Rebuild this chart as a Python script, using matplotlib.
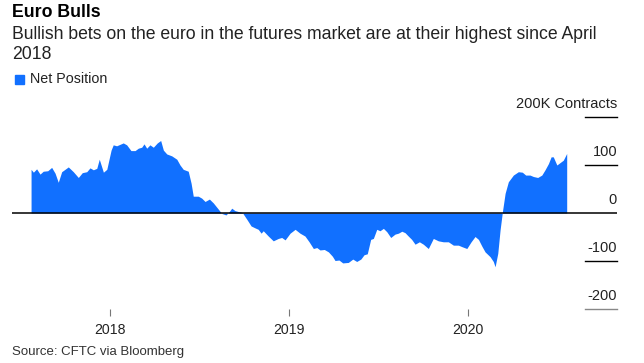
import numpy as np
import matplotlib
matplotlib.use("Agg")
import matplotlib.pyplot as plt
import matplotlib.transforms as mtransforms

plt.rcParams['font.family'] = ['Liberation Sans', 'DejaVu Sans']

# weekly-ish net positions (thousand contracts), dates as decimal years
dates = [2017.559, 2017.572, 2017.590, 2017.609, 2017.627, 2017.652, 2017.674, 2017.693,
         2017.711, 2017.730, 2017.767, 2017.795, 2017.823, 2017.845, 2017.870, 2017.888,
         2017.907, 2017.926, 2017.940, 2017.963, 2017.982, 2018.006, 2018.018, 2018.037,
         2018.074, 2018.093, 2018.117, 2018.140, 2018.158, 2018.177, 2018.190, 2018.205,
         2018.223, 2018.242, 2018.264, 2018.283, 2018.298, 2018.317, 2018.345, 2018.373,
         2018.391, 2018.409, 2018.437, 2018.453, 2018.465, 2018.493, 2018.512, 2018.531,
         2018.555, 2018.577, 2018.605, 2018.624, 2018.648, 2018.666, 2018.680, 2018.698,
         2018.717, 2018.739, 2018.764, 2018.788, 2018.810, 2018.828, 2018.844, 2018.856,
         2018.884, 2018.912, 2018.940, 2018.959, 2018.978, 2019.006, 2019.034, 2019.061,
         2019.089, 2019.112, 2019.136, 2019.155, 2019.173, 2019.197, 2019.220, 2019.242,
         2019.257, 2019.279, 2019.300, 2019.331, 2019.356, 2019.378, 2019.401, 2019.419,
         2019.437, 2019.456, 2019.471, 2019.490, 2019.508, 2019.527, 2019.546, 2019.568,
         2019.592, 2019.611, 2019.630, 2019.648, 2019.666, 2019.685, 2019.704, 2019.728,
         2019.750, 2019.778, 2019.806, 2019.834, 2019.862, 2019.890, 2019.918, 2019.946,
         2019.965, 2019.993, 2020.017, 2020.039, 2020.058, 2020.077, 2020.095, 2020.123,
         2020.141, 2020.151, 2020.166, 2020.179, 2020.192, 2020.207, 2020.225, 2020.253,
         2020.281, 2020.303, 2020.322, 2020.346, 2020.365, 2020.389, 2020.412, 2020.430,
         2020.449, 2020.464, 2020.476, 2020.496, 2020.514, 2020.532, 2020.551]
net_position = [91, 85, 92, 81, 87, 88, 95, 83,
                64, 86, 96, 86, 74, 84, 86, 94,
                90, 93, 112, 85, 91, 131, 142, 140,
                146, 142, 130, 130, 135, 137, 144, 135,
                142, 137, 146, 151, 131, 123, 119, 112,
                100, 91, 87, 62, 35, 35, 31, 24,
                29, 21, 8, -1, -4, 3, 10, 5,
                3, 1, -13, -27, -31, -34, -42, -37,
                -48, -58, -53, -51, -56, -42, -34, -42,
                -48, -60, -74, -72, -77, -76, -81, -90,
                -99, -98, -104, -103, -96, -101, -96, -87,
                -85, -55, -53, -34, -37, -32, -39, -51,
                -44, -42, -38, -41, -48, -55, -65, -60,
                -65, -74, -53, -58, -60, -60, -67, -67,
                -70, -74, -60, -49, -55, -69, -81, -91,
                -101, -112, -84, -35, 3, 41, 65, 79,
                86, 85, 79, 79, 76, 74, 79, 90,
                103, 117, 117, 100, 105, 110, 124]

year_ticks = [2018, 2019, 2020]
y_ticks = [200, 100, 0, -100, -200]
y_labels = ['200K Contracts', '100', '0', '-100', '-200']

blue = '#1170ff'

W, H = 644, 363
fig = plt.figure(figsize=(W / 100, H / 100), dpi=100)
ax = fig.add_axes([12 / W, 1 - 309 / H, 605 / W, 192 / H])

x = np.array(dates)
y = np.array(net_position)
ax.fill_between(x, 0, y, color=blue, linewidth=0)
ax.set_xlim(2017.4525, 2020.832)
ax.set_ylim(-200, 200)

ax.axhline(0, color='black', linewidth=1.1, zorder=3)

# short gridlines at the right side, labels sitting above them
trans = mtransforms.blended_transform_factory(ax.transAxes, ax.transData)
for v, lab in zip(y_ticks, y_labels):
    if v != 0:
        c = '#888888' if v == -200 else 'black'
        ax.plot([0.947, 1.0], [v, v], transform=trans, color=c, linewidth=1, clip_on=False)
    ax.annotate(lab, xy=(1.0, v), xycoords=trans, xytext=(0, 9.5),
                textcoords='offset points', ha='right', va='center',
                fontsize=10.5, color='#222222')

for s in ax.spines.values():
    s.set_visible(False)
ax.set_yticks([])
ax.set_xticks(year_ticks)
ax.set_xticklabels([str(t) for t in year_ticks])
ax.tick_params(axis='x', length=5, width=0.8, color='#777777', pad=5,
               labelsize=10.2, labelcolor='#222222')

fig.text(12 / W, 1 - 12.5 / H, 'Euro Bulls', fontsize=12.8, fontweight='bold',
         va='center', ha='left', color='black')
fig.text(12 / W, 1 - 34.5 / H, 'Bullish bets on the euro in the futures market are at their highest since April',
         fontsize=12.7, va='center', ha='left', color='#222222')
fig.text(12 / W, 1 - 54.5 / H, '2018', fontsize=12.7, va='center', ha='left', color='#222222')

fig.patches.append(plt.Rectangle((15 / W, 1 - 84 / H), 9 / W, 9 / H,
                                 transform=fig.transFigure, color=blue, figure=fig))
fig.text(30 / W, 1 - 79 / H, 'Net Position', fontsize=10.3, va='center', ha='left', color='#222222')

fig.text(12 / W, 1 - 352 / H, 'Source: CFTC via Bloomberg', fontsize=9.5,
         va='center', ha='left', color='#333333')

fig.savefig('out.png', dpi=100)
